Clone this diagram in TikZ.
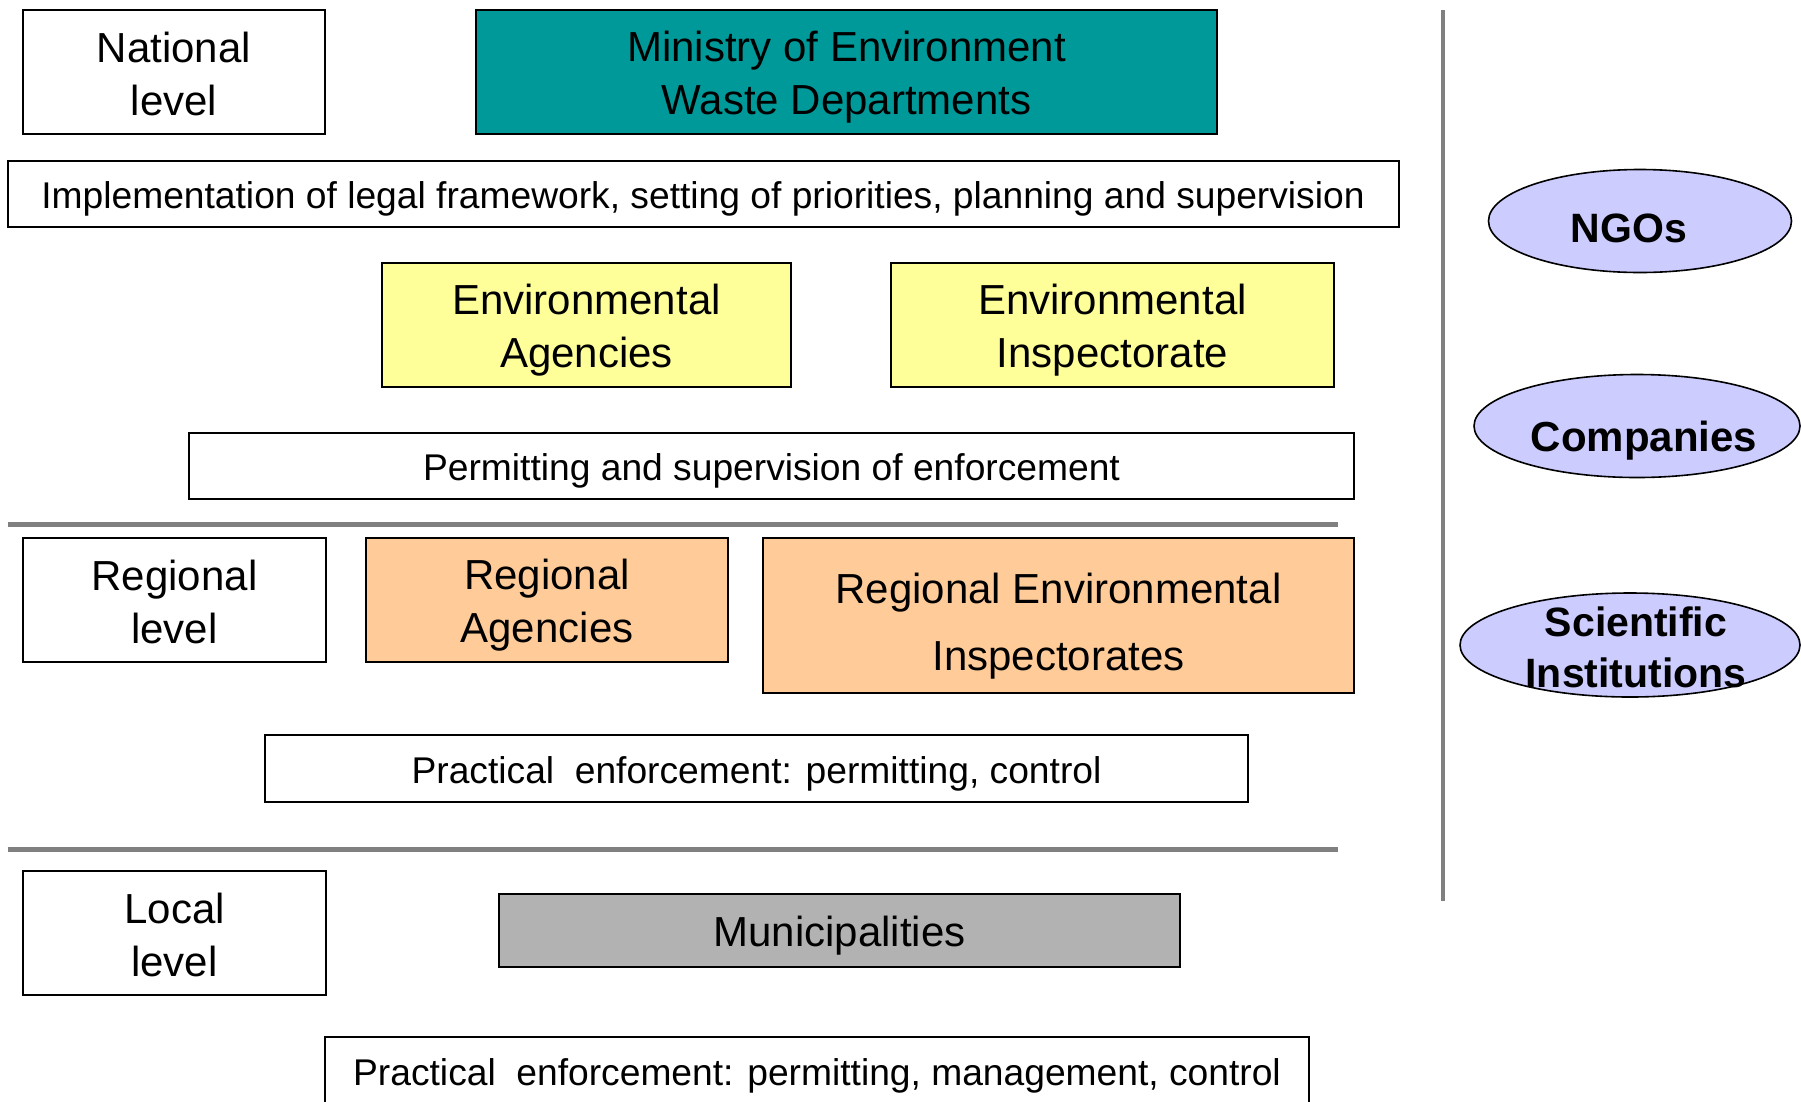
\documentclass[tikz,border=0pt]{standalone}
\usepackage{fontspec}
\setmainfont{Liberation Sans}
\usetikzlibrary{shapes.geometric}
\definecolor{cTeal}{RGB}{0,153,153}
\definecolor{cYellow}{RGB}{255,255,153}
\definecolor{cOrange}{RGB}{255,204,153}
\definecolor{cGray}{RGB}{178,178,178}
\definecolor{cLav}{RGB}{204,204,255}
\definecolor{cRule}{RGB}{128,128,128}
\tikzset{
  frame/.style={draw=black, line width=2pt, inner sep=0pt},
  txt/.style={align=center, inner sep=0pt, yshift=-5pt,
    font=\fontsize{42}{53}\selectfont},
  lvltxt/.style={txt, yshift=3pt},
  widetxt/.style={align=center, inner sep=0pt, yshift=-5pt,
    font=\fontsize{37.2}{44}\selectfont},
  oval/.style={ellipse, draw=black, line width=1.6pt, fill=cLav, inner sep=0pt},
  ovaltext/.style={align=center, inner sep=0pt, font=\bfseries\fontsize{41}{50}\selectfont},
  sep/.style={draw=cRule, line width=5pt}
}
\begin{document}
\begin{tikzpicture}[x=1pt,y=-1pt]
\useasboundingbox[fill=white] (0,0) rectangle (1801,1101);

% national level
\node[frame, minimum width=302pt, minimum height=124pt] (natl) at (174,72) {};
\node[lvltxt] (natlT) at (natl.center) {National\\level};
\node[frame, fill=cTeal, minimum width=741pt, minimum height=124pt] (ministry) at (846.5,72) {};
\node[txt] (ministryT) at (ministry.center) {Ministry of Environment\\Waste Departments};
\node[frame, minimum width=1391pt, minimum height=66pt] (impl) at (703,194) {};
\node[widetxt] (implT) at (impl.center) {Implementation of legal framework, setting of priorities, planning and supervision};
\node[frame, fill=cYellow, minimum width=409pt, minimum height=124pt] (envag) at (586.5,325) {};
\node[txt] (envagT) at (envag.center) {Environmental\\Agencies};
\node[frame, fill=cYellow, minimum width=443pt, minimum height=124pt] (envinsp) at (1112.5,325) {};
\node[txt] (envinspT) at (envinsp.center) {Environmental\\Inspectorate};
\node[frame, minimum width=1165pt, minimum height=66pt] (permit) at (771.5,466) {};
\node[widetxt] (permitT) at (permit.center) {Permitting and supervision of enforcement};

\draw[sep] (7.5,524) -- (1338,524);

% regional level
\node[frame, minimum width=303pt, minimum height=124pt] (regl) at (174.5,600) {};
\node[lvltxt] (reglT) at (regl.center) {Regional\\level};
\node[frame, fill=cOrange, minimum width=362pt, minimum height=124pt] (regag) at (547,600) {};
\node[txt] (regagT) at (regag.center) {Regional\\Agencies};
\node[frame, fill=cOrange, minimum width=591pt, minimum height=155pt] (reginsp) at (1058.5,615.5) {};
\node[txt, yshift=-6pt, font=\fontsize{42}{67}\selectfont] (reginspT) at (reginsp.center) {Regional Environmental\\Inspectorates};
\node[frame, minimum width=983pt, minimum height=67pt] (pract1) at (756.5,768.5) {};
\node[widetxt] (pract1T) at (pract1.center) {Practical\ \ enforcement: permitting, control};

\draw[sep] (7.5,849) -- (1338,849);

% local level
\node[frame, minimum width=303pt, minimum height=124pt] (locl) at (174.5,933) {};
\node[lvltxt] (loclT) at (locl.center) {Local\\level};
\node[frame, fill=cGray, minimum width=681pt, minimum height=73pt] (munic) at (839.5,930.5) {};
\node[txt] (municT) at (munic.center) {Municipalities};
\node[frame, minimum width=984pt, minimum height=68pt] (pract2) at (817,1071) {};
\node[widetxt] (pract2T) at (pract2.center) {Practical\ \ enforcement: permitting, management, control};

% vertical divider
\draw[draw=cRule, line width=4.5pt] (1443,10) -- (1443,901);

% stakeholders
\node[oval, minimum width=303pt, minimum height=103pt] (ngo) at (1640,221) {};
\node[ovaltext] (ngoT) at (1629,228) {NGOs};
\node[oval, minimum width=326pt, minimum height=103pt] (comp) at (1637,426) {};
\node[ovaltext, font=\bfseries\fontsize{42}{50}\selectfont] (compT) at (1644,441) {Companies};
\node[oval, minimum width=340pt, minimum height=104pt] (sci) at (1630,645) {};
\node[ovaltext, font=\bfseries\fontsize{41}{51}\selectfont] (sciT) at (1636,647) {Scientific\\Institutions};
\end{tikzpicture}
\end{document}
